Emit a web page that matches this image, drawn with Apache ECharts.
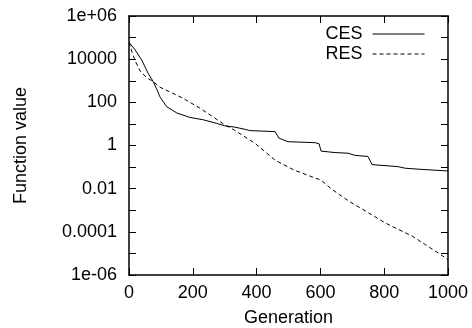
<!DOCTYPE html>
<html>
<head>
<meta charset="utf-8">
<script src="https://cdn.jsdelivr.net/npm/echarts@6/dist/echarts.min.js"></script>
<style>
html,body{margin:0;padding:0;background:#fff;}
#c{width:472px;height:328px;}
</style>
</head>
<body>
<div id="c"></div>
<script>
// Generation (x) and function value (y)
var cesGen = [0, 6, 19, 40, 60, 76, 87, 97, 118, 150, 191, 233, 274, 301, 332, 364, 379, 458, 464, 470, 498, 583, 596, 602, 646, 687, 708, 749, 755, 762, 843, 865, 912, 918, 1000];
var cesVal = [6.0e4, 5.0e4, 2.7e4, 9.1e3, 2.2e3, 9.1e2, 4.0e2, 1.8e2, 63, 32, 20, 15.5, 10.7, 8.1, 7.1, 5.6, 4.9, 4.4, 4.0, 2.2, 1.5, 1.35, 1.2, 0.55, 0.47, 0.44, 0.35, 0.31, 0.28, 0.13, 0.105, 0.089, 0.079, 0.066, 0.066];
var resGen = [0, 10, 20, 35, 55, 76, 97, 138, 169, 222, 285, 301, 332, 395, 458, 520, 536, 583, 596, 606, 637, 690, 752, 805, 846, 888, 930, 994, 1000];
var resVal = [6.0e4, 2.0e4, 7.9e3, 2.8e3, 1.4e3, 9.1e2, 5.0e2, 2.6e2, 1.55e2, 54, 12.9, 8.9, 5.0, 1.26, 0.21, 0.069, 0.058, 0.031, 0.027, 0.022, 9.1e-3, 2.6e-3, 7.4e-4, 2.5e-4, 1.26e-4, 6.3e-5, 2.5e-5, 6.0e-6, 5.0e-6];
var seriesNames = ['CES', 'RES'];
var xTicks = [0, 200, 400, 600, 800, 1000];
var xTickLabels = ['0', '200', '400', '600', '800', '1000'];
var yTickExp = [-6, -4, -2, 0, 2, 4, 6];
var yTickLabels = ['1e-06', '0.0001', '0.01', '1', '100', '10000', '1e+06'];
var xTitle = 'Generation';
var yTitle = 'Function value';

function pairs(g, v) { return g.map(function (x, i) { return [x, v[i]]; }); }
var FONT = 'Liberation Sans';
var FS = 18;
var axisLine = { show: true, onZero: false, lineStyle: { color: '#000', width: 1.5 } };
var tick = { show: true, inside: true, length: 7, lineStyle: { color: '#000', width: 1 } };
function yLabel(v) {
  var e = Math.round(Math.log10(v));
  var i = yTickExp.indexOf(e);
  return i >= 0 ? yTickLabels[i] : '';
}
function xLabel(v) {
  var i = xTicks.indexOf(Math.round(v));
  return i >= 0 ? xTickLabels[i] : '';
}
var chart = echarts.init(document.getElementById('c'), null, { renderer: 'canvas' });
chart.setOption({
  animation: false,
  backgroundColor: '#fff',
  textStyle: { fontFamily: FONT },
  grid: { left: 129, right: 24, top: 16, bottom: 53, containLabel: false, outerBoundsMode: 'none' },
  legend: {
    orient: 'vertical', align: 'right', right: 42, top: 20,
    itemWidth: 52, itemHeight: 14, itemGap: 2,
    itemStyle: { opacity: 0 },
    lineStyle: { width: 1 },
    textStyle: { fontFamily: FONT, fontSize: FS, color: '#000', padding: [0, 5, 0, 0] },
    data: seriesNames
  },
  xAxis: [{
    type: 'value', min: xTicks[0], max: xTicks[xTicks.length - 1], interval: xTicks[1] - xTicks[0],
    position: 'bottom', name: xTitle, nameLocation: 'middle', nameGap: 34,
    nameTextStyle: { fontFamily: FONT, fontSize: FS, color: '#000' },
    axisLine: axisLine, axisTick: tick, splitLine: { show: false },
    axisLabel: { fontFamily: FONT, fontSize: FS, color: '#000', margin: 9, formatter: xLabel }
  }, {
    type: 'value', min: xTicks[0], max: xTicks[xTicks.length - 1], interval: xTicks[1] - xTicks[0],
    position: 'top', axisLine: axisLine, axisTick: tick, splitLine: { show: false },
    axisLabel: { show: false }
  }],
  yAxis: [{
    type: 'log', logBase: 10, min: 1e-6, max: 1e6, interval: 1,
    position: 'left', name: yTitle, nameLocation: 'middle', nameGap: 99, nameRotate: 90,
    nameTextStyle: { fontFamily: FONT, fontSize: FS, color: '#000' },
    axisLine: axisLine, axisTick: tick, splitLine: { show: false },
    axisLabel: { fontFamily: FONT, fontSize: FS, color: '#000', margin: 12, formatter: yLabel, showMinLabel: true, showMaxLabel: true }
  }, {
    type: 'log', logBase: 10, min: 1e-6, max: 1e6, interval: 1,
    position: 'right', axisLine: axisLine, axisTick: tick, splitLine: { show: false },
    axisLabel: { show: false }
  }],
  series: [{
    name: seriesNames[0], type: 'line', xAxisIndex: 0, yAxisIndex: 0,
    data: pairs(cesGen, cesVal), symbol: 'none', smooth: false,
    lineStyle: { color: '#000', width: 1, type: 'solid' }, itemStyle: { color: '#000' }
  }, {
    name: seriesNames[1], type: 'line', xAxisIndex: 0, yAxisIndex: 0,
    data: pairs(resGen, resVal), symbol: 'none', smooth: false,
    lineStyle: { color: '#000', width: 1, type: [4, 3] }, itemStyle: { color: '#000' }
  }]
});
</script>
</body>
</html>
